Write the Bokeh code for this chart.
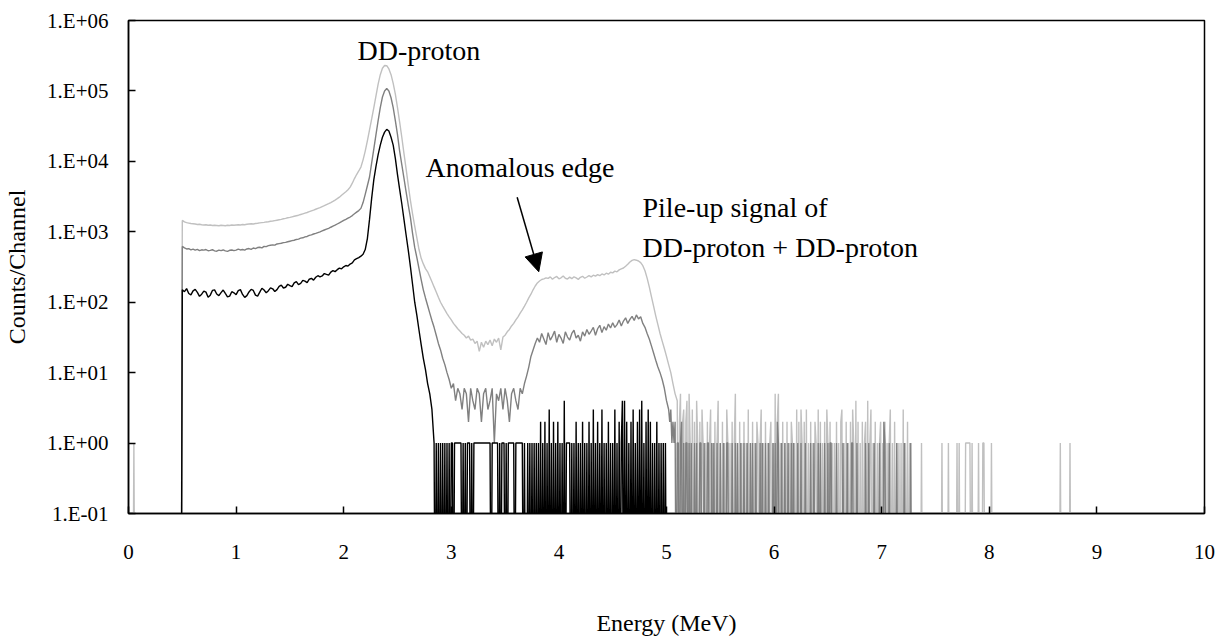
import numpy as np
from bokeh.plotting import figure
from bokeh.models import Range1d, FixedTicker, CustomJSTickFormatter, Arrow, NormalHead
from bokeh.core.properties import value
from bokeh.embed import file_html
from bokeh.resources import INLINE

# ---------------- data (counts per channel) ----------------
COARSE_STEP = 0.02   # MeV per point in the smooth part
FINE_STEP = 0.01     # MeV per channel in the low-count tail

# light gray spectrum (highest)
light_pre_energy = [0.00, 0.04, 0.05, 0.06, 0.49]
light_pre_counts = [0, 0, 1, 0, 0]
light_main_start = 0.50
light_main_counts = [
    1450, 1380, 1350, 1330, 1310, 1300, 1290, 1270, 1280, 1260,
    1250, 1260, 1240, 1250, 1230, 1240, 1230, 1220, 1240, 1230,
    1220, 1240, 1230, 1250, 1240, 1250, 1260, 1250, 1270, 1260,
    1280, 1290, 1300, 1290, 1310, 1320, 1340, 1350, 1360, 1380,
    1390, 1410, 1420, 1440, 1460, 1480, 1500, 1530, 1550, 1580,
    1600, 1630, 1660, 1690, 1720, 1760, 1800, 1840, 1880, 1930,
    1980, 2030, 2090, 2150, 2210, 2280, 2350, 2430, 2510, 2600,
    2700, 2820, 2950, 3100, 3300, 3500, 3700, 3950, 4300, 4900,
    5700, 6500, 7300, 8300, 10500, 14000, 19500, 28000, 40000, 58000,
    85000, 125000, 170000, 210000, 230000, 228000, 205000, 170000, 128000, 90000,
    58000, 36000, 22000, 13000, 7800, 4600, 2800, 1800, 1200, 820,
    560, 420, 350, 300, 270, 230, 195, 165, 140, 118,
    100, 88, 78, 69, 62, 56, 50, 46, 42, 39,
    36, 34, 31, 33, 29, 30, 26, 28, 20, 27,
    23, 28, 25, 29, 24, 30, 27, 31, 21, 32,
    34, 38, 41, 46, 50, 56, 62, 70, 78, 88,
    100, 115, 130, 150, 170, 188, 200, 210, 215, 222,
    218, 229, 212, 224, 232, 215, 222, 236, 219, 213,
    227, 216, 230, 221, 211, 226, 233, 219, 228, 238,
    229, 242, 235, 247, 238, 252, 244, 258, 250, 266,
    261, 276, 270, 288, 298, 306, 325, 346, 372, 392,
    402, 395, 385, 365, 330, 280, 220, 165, 120, 88,
    64, 48, 36, 28, 22, 17, 13, 10, 7, 5,
]
light_tail_start = 5.10
light_tail_counts = [
    4, 0, 2, 5, 0, 2, 3, 0, 2, 4,
    0, 5, 1, 0, 3, 0, 2, 0, 4, 1,
    0, 2, 0, 3, 1, 0, 1, 0, 2, 0,
    1, 3, 0, 1, 0, 2, 0, 1, 4, 0,
    1, 0, 2, 0, 1, 0, 3, 1, 0, 1,
    0, 2, 0, 1, 5, 0, 1, 0, 2, 0,
    1, 0, 2, 0, 1, 0, 3, 0, 1, 0,
    2, 0, 1, 0, 2, 1, 0, 1, 3, 0,
    1, 0, 2, 0, 1, 0, 1, 2, 0, 1,
    0, 5, 0, 2, 5, 0, 1, 0, 2, 0,
    1, 0, 2, 0, 1, 0, 2, 1, 0, 1,
    0, 3, 0, 2, 0, 3, 1, 0, 2, 0,
    3, 0, 1, 0, 2, 0, 1, 0, 2, 1,
    0, 3, 0, 2, 0, 1, 0, 2, 0, 3,
    1, 0, 2, 0, 1, 0, 1, 0, 2, 0,
    1, 0, 2, 3, 0, 1, 0, 2, 0, 1,
    0, 2, 0, 3, 1, 0, 4, 0, 2, 0,
    1, 0, 2, 0, 1, 2, 0, 4, 0, 1,
    3, 0, 1, 0, 2, 0, 1, 0, 1, 2,
    0, 1, 0, 2, 0, 1, 0, 1, 3, 0,
    1, 0, 2, 0, 1, 0, 1, 0, 1, 0,
    3, 0, 1, 0, 2, 0, 1, 0, 0, 0,
    0, 0, 0, 0, 0, 0, 0, 1, 0, 0,
    0, 0, 0, 0, 0, 0, 0, 0, 0, 0,
    0, 0, 0, 0, 0, 0, 1, 0, 0, 0,
    0, 0, 1, 0, 0, 0, 0, 0, 0, 0,
    1, 0, 1, 0, 0, 0, 0, 0, 1, 1,
    1, 1, 1, 0, 1, 0, 0, 0, 0, 0,
    1, 0, 0, 0, 1, 1, 0, 0, 0, 0,
    0, 0, 1, 0, 0, 0, 0, 0, 0, 0,
    0,
]
light_post_energy = [8.11, 8.65, 8.66, 8.67, 8.74, 8.75, 8.76, 10.0]
light_post_counts = [0, 0, 1, 0, 0, 1, 0, 0]

# dark gray spectrum (middle)
dark_pre_energy = [0.00, 0.49]
dark_pre_counts = [0, 0]
dark_main_start = 0.50
dark_main_counts = [
    620, 590, 570, 575, 555, 568, 550, 562, 540, 555,
    548, 560, 538, 544, 556, 536, 530, 549, 541, 552,
    535, 528, 546, 551, 539, 548, 566, 552, 561, 549,
    570, 578, 562, 588, 576, 598, 604, 592, 620, 615,
    635, 644, 652, 646, 672, 680, 688, 702, 708, 722,
    735, 748, 758, 778, 788, 812, 822, 848, 858, 888,
    905, 930, 950, 975, 1000, 1030, 1060, 1090, 1120, 1160,
    1200, 1240, 1290, 1340, 1390, 1450, 1500, 1560, 1620, 1700,
    1800, 1900, 2000, 2150, 2600, 3400, 4500, 6000, 9500, 15000,
    24000, 38000, 58000, 82000, 100000, 108000, 100000, 80000, 58000, 38000,
    24000, 14000, 9000, 5800, 3700, 2400, 1600, 950, 600, 430,
    300, 210, 150, 115, 90, 70, 55, 44, 34, 26,
    21, 16, 13, 10, 8, 6, 7, 4, 6, 5,
    3, 6, 5, 2, 6, 4, 3, 6, 5, 2,
    5, 6, 3, 4, 6, 1, 5, 4, 6, 3,
    6, 4, 2, 5, 6, 4, 3, 6, 5, 7,
    9, 12, 17, 21, 26, 31, 27, 36, 30, 25,
    37, 29, 33, 39, 27, 35, 31, 26, 38, 32,
    29, 36, 40, 31, 34, 28, 38, 33, 41, 35,
    39, 44, 34, 42, 47, 37, 45, 40, 49, 43,
    51, 44, 48, 56, 46, 54, 60, 50, 57, 63,
    55, 66, 58, 62, 50, 44, 36, 30, 24, 19,
    15, 12, 10, 8, 6, 4,
]
dark_tail_start = 5.02
dark_tail_counts = [
    3, 2, 3, 1, 2, 1, 2, 0, 1, 1,
    0, 1, 2, 0, 1, 0, 1, 1, 0, 1,
    0, 1, 0, 0, 1, 0, 1, 0, 0, 1,
    1, 0, 0, 1, 0, 0, 1, 1, 0, 0,
    1, 0, 1, 0, 0, 1, 0, 0, 1, 0,
    0, 1, 0, 0, 1, 1, 0, 0, 0, 1,
    0, 0, 1, 0, 1, 0, 0, 1, 0, 0,
    1, 0, 0, 1, 0, 0, 1, 0, 1, 0,
    0, 1, 0, 0, 0, 1, 0, 1, 0, 0,
    1, 0, 0, 1, 0, 0, 0, 1, 0, 1,
    0, 2, 1, 0, 0, 1, 0, 0, 1, 0,
    0, 1, 0, 0, 1, 0, 1, 0, 0, 0,
    1, 0, 0, 1, 0, 0, 0, 1, 0, 0,
    0, 0, 1, 0, 0, 1, 0, 0, 0, 1,
    0, 1, 0, 0, 0, 1, 0, 0, 1, 0,
    1, 1, 0, 0, 0, 0, 1, 0, 0, 0,
    0, 0, 1, 0, 0, 0, 1, 0, 0, 0,
    1, 1, 0, 0, 0, 1, 0, 0, 0, 0,
    0, 0, 0, 1, 0, 0, 1, 0, 0, 0,
    0, 1, 0, 0, 0, 0, 1, 0, 0, 0,
    2, 1, 0, 0, 0, 1, 0, 0, 0, 0,
    0, 0, 1, 0, 0, 0, 0, 0, 0, 1,
    0, 0, 0, 0, 0, 1, 0, 0, 0,
]
dark_post_energy = [7.31]
dark_post_counts = [0]

# black spectrum (lowest)
black_pre_energy = [0.49]
black_pre_counts = [0]
black_main_start = 0.50
black_main_counts = [
    150, 141, 156, 133, 127, 145, 152, 138, 121, 130,
    144, 139, 118, 126, 147, 150, 131, 124, 137, 149,
    133, 119, 122, 141, 136, 128, 146, 151, 129, 117,
    124, 140, 152, 147, 126, 122, 139, 158, 149, 136,
    146, 160, 155, 142, 151, 168, 175, 159, 163, 180,
    172, 166, 188, 196, 178, 185, 204, 199, 190, 212,
    218, 206, 226, 238, 229, 236, 255, 248, 242, 268,
    281, 272, 290, 305, 298, 318, 332, 326, 348, 362,
    400, 415, 430, 450, 480, 560, 800, 1500, 3000, 5500,
    8500, 12500, 17000, 22000, 26000, 28500, 27000, 22000, 17000, 11000,
    6500, 4000, 2500, 1500, 900, 550, 320, 180, 100, 65,
    40, 25, 16, 11, 7, 5, 3,
]
black_tail_start = 2.84
black_tail_counts = [
    1, 0, 1, 0, 1, 0, 1, 0, 1, 0,
    1, 0, 1, 0, 1, 0, 1, 1, 0, 1,
    1, 1, 1, 1, 1, 1, 0, 1, 0, 1,
    0, 1, 1, 1, 0, 1, 0, 1, 1, 1,
    1, 1, 1, 1, 1, 1, 1, 1, 1, 1,
    1, 1, 1, 0, 1, 1, 1, 1, 1, 1,
    0, 1, 0, 1, 1, 1, 0, 1, 0, 1,
    1, 1, 1, 1, 1, 0, 1, 1, 1, 1,
    1, 1, 1, 0, 1, 0, 0, 1, 0, 1,
    0, 1, 0, 1, 0, 1, 0, 1, 0, 2,
    0, 1, 0, 2, 0, 1, 0, 3, 0, 1,
    0, 2, 0, 1, 0, 2, 0, 1, 0, 1,
    0, 4, 0, 1, 1, 1, 1, 0, 1, 0,
    1, 0, 2, 0, 1, 0, 1, 0, 2, 0,
    1, 0, 1, 0, 2, 0, 1, 0, 3, 0,
    1, 0, 2, 0, 1, 0, 3, 0, 1, 0,
    1, 0, 2, 0, 1, 0, 1, 0, 3, 0,
    1, 0, 2, 0, 1, 4, 0, 4, 0, 2,
    0, 1, 0, 2, 0, 3, 0, 1, 0, 2,
    0, 3, 0, 4, 0, 1, 0, 2, 0, 3,
    0, 2, 0, 1, 0, 1, 0, 2, 0, 1,
    0, 1, 0, 1, 0, 1, 0, 0,
]
black_post_energy = [5.02]
black_post_counts = [0]

y_tick_values = [0.1, 1, 10, 100, 1000, 10000, 100000, 1000000]
y_tick_labels = ["1.E-01", "1.E+00", "1.E+01", "1.E+02", "1.E+03", "1.E+04", "1.E+05", "1.E+06"]
x_tick_values = [0, 1, 2, 3, 4, 5, 6, 7, 8, 9, 10]

annotation_texts = ["DD-proton", "Anomalous edge", "Pile-up signal of", "DD-proton + DD-proton"]

# ---------------- assembly ----------------
ZERO_FLOOR = 1e-3  # zero counts are drawn below the axis (clipped), like the original


def spectrum(pre_e, pre_c, main_start, main_c, tail_start, tail_c, post_e, post_c):
    main_e = [round(main_start + i * COARSE_STEP, 4) for i in range(len(main_c))]
    tail_e = [round(tail_start + i * FINE_STEP, 4) for i in range(len(tail_c))]
    e = list(pre_e) + main_e + tail_e + list(post_e)
    c = list(pre_c) + list(main_c) + list(tail_c) + list(post_c)
    y = [v if v > 0 else ZERO_FLOOR for v in c]
    return e, y


FONT = "Liberation Serif"

p = figure(width=1219, height=639, y_axis_type="log",
           x_range=Range1d(0, 10), y_range=Range1d(0.1, 1e6),
           output_backend="svg", toolbar_location=None,
           min_border_left=128, min_border_right=15,
           min_border_top=20, min_border_bottom=126)
p.background_fill_color = "white"
p.border_fill_color = "white"
p.outline_line_color = "black"
p.outline_line_width = 1.5
p.xgrid.visible = False
p.ygrid.visible = False

series = [
    (light_pre_energy, light_pre_counts, light_main_start, light_main_counts,
     light_tail_start, light_tail_counts, light_post_energy, light_post_counts, "#c0c0c0"),
    (dark_pre_energy, dark_pre_counts, dark_main_start, dark_main_counts,
     dark_tail_start, dark_tail_counts, dark_post_energy, dark_post_counts, "#808080"),
    (black_pre_energy, black_pre_counts, black_main_start, black_main_counts,
     black_tail_start, black_tail_counts, black_post_energy, black_post_counts, "#000000"),
]
for s in series:
    e, y = spectrum(*s[:8])
    p.line(e, y, line_color=s[8], line_width=1.4)

# axes
p.xaxis.ticker = FixedTicker(ticks=x_tick_values)
p.yaxis.ticker = FixedTicker(ticks=y_tick_values)
p.yaxis.formatter = CustomJSTickFormatter(
    args=dict(vals=y_tick_values, labels=y_tick_labels),
    code="""
    for (let i = 0; i < vals.length; i++) {
        if (Math.abs(Math.log10(vals[i]) - Math.log10(tick)) < 1e-6) { return labels[i]; }
    }
    return "";
    """)
for ax in (p.xaxis[0], p.yaxis[0]):
    ax.axis_line_color = "black"
    ax.axis_line_width = 1.5
    ax.major_tick_in = 7
    ax.major_tick_out = 0
    ax.major_tick_line_color = "black"
    ax.major_tick_line_width = 1.5
    ax.minor_tick_line_color = None
    ax.major_label_text_font = FONT
    ax.major_label_text_font_size = "21px"
    ax.major_label_text_color = "black"
    ax.axis_label_text_font = FONT
    ax.axis_label_text_font_size = "24px"
    ax.axis_label_text_font_style = "normal"
    ax.axis_label_text_color = "black"

p.xaxis.axis_label = "Energy (MeV)"
p.xaxis.major_label_standoff = 31
p.xaxis.axis_label_standoff = 48
p.yaxis.axis_label = "Counts/Channel"
p.yaxis.major_label_standoff = 20
p.yaxis.axis_label_standoff = 14

# annotations (positions in data units)
ann_x = [2.128, 2.76, 4.777, 4.777]
ann_y = [2.7e5, 5900, 1596, 431]
p.text(x=ann_x, y=ann_y, text=annotation_texts, y_offset=-10,
       text_font=value(FONT), text_font_size="28px", text_color="black",
       text_baseline="alphabetic", text_align="left")
p.add_layout(Arrow(x_start=3.612, y_start=3098, x_end=3.813, y_end=271,
                   line_color="black", line_width=1.5,
                   end=NormalHead(size=18, fill_color="black", line_color="black")))

open("out.html", "w").write(file_html(p, INLINE))
